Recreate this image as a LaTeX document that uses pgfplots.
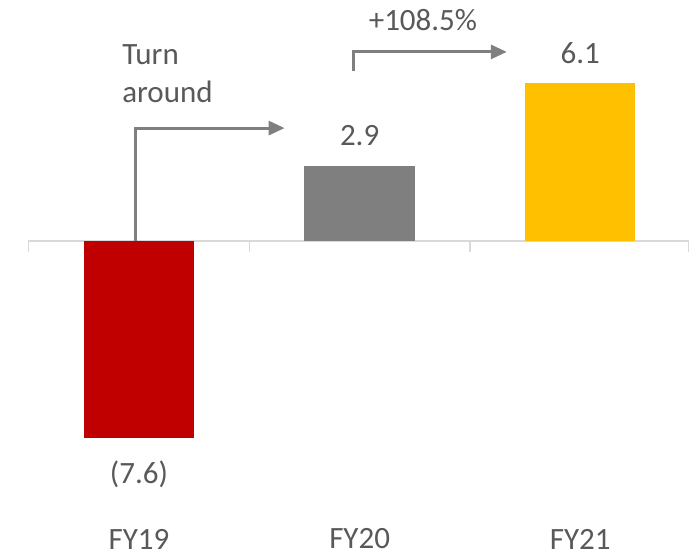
\documentclass[border=0pt]{standalone}
\usepackage{pgfplots}
\pgfplotsset{compat=1.18}
\usepackage{fontspec}
\setmainfont{Carlito}
\usetikzlibrary{arrows.meta}
\definecolor{barred}{HTML}{C00000}
\definecolor{bargray}{HTML}{7F7F7F}
\definecolor{baryellow}{HTML}{FFC000}
\definecolor{txt}{HTML}{595959}
\definecolor{zeroline}{HTML}{D9D9D9}
\definecolor{arrowgray}{HTML}{7F7F7F}

\begin{document}
\begin{tikzpicture}[font=\fontsize{23.25}{28.5}\selectfont]
\begin{axis}[
  x=165.5pt, y=19.43pt,
  xmin=-0.63, xmax=2.52, ymin=-12.12, ymax=9.30,
  axis line style={draw=none},
  ytick=\empty,
  xtick={0,1,2}, xticklabels={FY19,FY20,FY21},
  major tick length=0pt,
  xticklabel style={anchor=center, yshift=12pt, text=txt, inner sep=0pt},
  /pgf/number format/assume math mode=true,
  clip=false,
  ybar, bar width=0.5,
  nodes near coords align=center,
  every node near coord/.append style={text=txt, inner sep=0pt},
]
% zero line with category separators
\draw[zeroline, line width=1.1pt] (axis cs:-0.5,-0.42) -- (axis cs:-0.5,0) -- (axis cs:2.49,0) -- (axis cs:2.49,-0.42);
\draw[zeroline, line width=1.1pt] (axis cs:0.5,0) -- (axis cs:0.5,-0.42);
\draw[zeroline, line width=1.1pt] (axis cs:1.5,0) -- (axis cs:1.5,-0.42);

% FY19: loss shown in parentheses
\addplot[fill=barred, draw=none, bar shift=0pt, point meta=explicit,
  nodes near coords={(\pgfmathprintnumber[fixed,fixed zerofill,precision=1]{\pgfplotspointmeta})},
  every node near coord/.append style={yshift=-27pt}]
  coordinates {(0,-7.6) [7.6]};
\addplot[fill=bargray, draw=none, bar shift=0pt,
  nodes near coords={\pgfmathprintnumber[fixed,fixed zerofill,precision=1]{\pgfplotspointmeta}},
  every node near coord/.append style={yshift=22.5pt}]
  coordinates {(1,2.9)};
\addplot[fill=baryellow, draw=none, bar shift=0pt,
  nodes near coords={\pgfmathprintnumber[fixed,fixed zerofill,precision=1]{\pgfplotspointmeta}},
  every node near coord/.append style={yshift=22.5pt}]
  coordinates {(2,6.1)};

% annotation arrows
\draw[arrowgray, line width=2.25pt, -{Triangle[length=12pt,width=10.5pt]}]
  (axis cs:-0.018,0) |- (axis cs:0.66,4.36);
\draw[arrowgray, line width=2.25pt, -{Triangle[length=12pt,width=10.5pt]}]
  (axis cs:0.97,6.56) |- (axis cs:1.667,7.30);

\node[anchor=west, align=left, text=txt, inner sep=0pt] at (axis cs:-0.077,6.47) {Turn\\around};
\node[text=txt, inner sep=0pt] at (axis cs:1.287,8.53) {+108.5\%};
\end{axis}
\end{tikzpicture}
\end{document}
